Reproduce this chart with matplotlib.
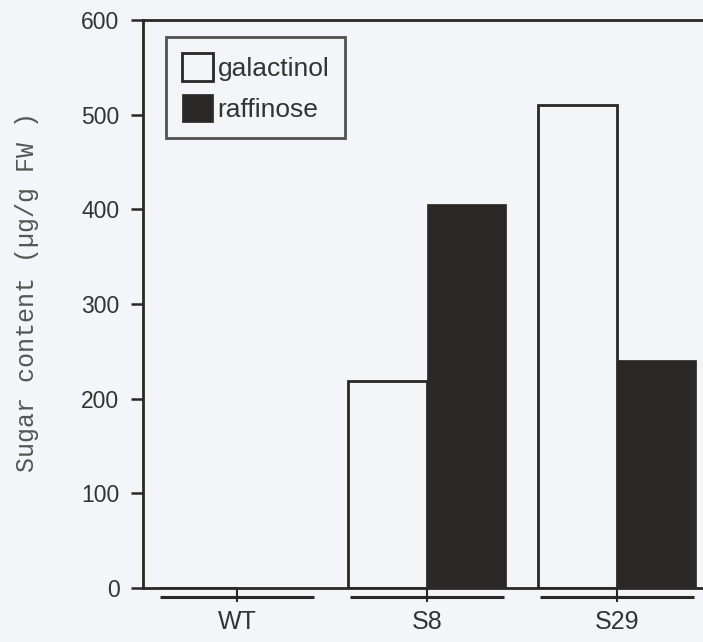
import matplotlib
matplotlib.use("Agg")
import matplotlib.pyplot as plt
import numpy as np

categories = ["WT", "S8", "S29"]
galactinol = [0, 219, 510]
raffinose = [0, 406, 241]
series_labels = ["galactinol", "raffinose"]
yticks = [0, 100, 200, 300, 400, 500, 600]

bg = "#f3f5f8"
dark = "#2b2727"
txt = "#333333"

fig = plt.figure(figsize=(7.03, 6.42), dpi=100, facecolor=bg)
ax = fig.add_axes([143/703, (642-588)/642, 1 - 143/703, (588-20)/642])
ax.set_facecolor(bg)

x = np.arange(len(categories))
w = 0.415
ax.bar(x - w/2, galactinol, width=w, facecolor=bg, edgecolor=dark, linewidth=2.0,
       label=series_labels[0])
ax.bar(x + w/2, raffinose, width=w, facecolor=dark, edgecolor=dark, linewidth=0.5,
       label=series_labels[1])

ax.set_xlim(-0.495, 2.453)
ax.set_ylim(0, 600)
ax.set_yticks(yticks)
ax.set_yticklabels([str(v) for v in yticks], fontsize=16.5, color=txt,
                   family="Liberation Sans")
ax.tick_params(axis="y", direction="out", length=9, width=1.8, color=dark, pad=8)

ax.set_xticks(x)
ax.set_xticklabels([])
ax.tick_params(axis="x", direction="out", length=10, width=1.5, color=dark)

# group underlines below axis
trans = ax.get_xaxis_transform()
half = 0.403
for xi, lab in zip(x, categories):
    ax.plot([xi - half, xi + half], [-0.016, -0.016], transform=trans, color=dark,
            lw=2.2, clip_on=False, solid_capstyle="butt")
    ax.text(xi, -0.038, lab, transform=trans, ha="center", va="top", fontsize=18,
            color=txt, family="Liberation Sans")

for s in ["left", "top", "bottom"]:
    ax.spines[s].set_color(dark)
    ax.spines[s].set_linewidth(2.0)
ax.spines["right"].set_visible(False)

fig.text(27/703, 1 - 292/642, "Sugar content (µg/g FW )", rotation=90, ha="center",
         va="center", fontsize=18, color="#555555", family="Liberation Mono")

leg = ax.legend(loc="upper left", bbox_to_anchor=(0.041, 0.97),
                frameon=True, fancybox=False, edgecolor=dark, facecolor=bg,
                handlelength=1.2, handleheight=1.25, handletextpad=0.15,
                borderpad=0.6, labelspacing=0.5, borderaxespad=0,
                prop={"family": "Liberation Sans", "size": 19})
leg.get_frame().set_linewidth(2.0)
for t in leg.get_texts():
    t.set_color(txt)

fig.savefig("out.png", dpi=100, facecolor=bg)
